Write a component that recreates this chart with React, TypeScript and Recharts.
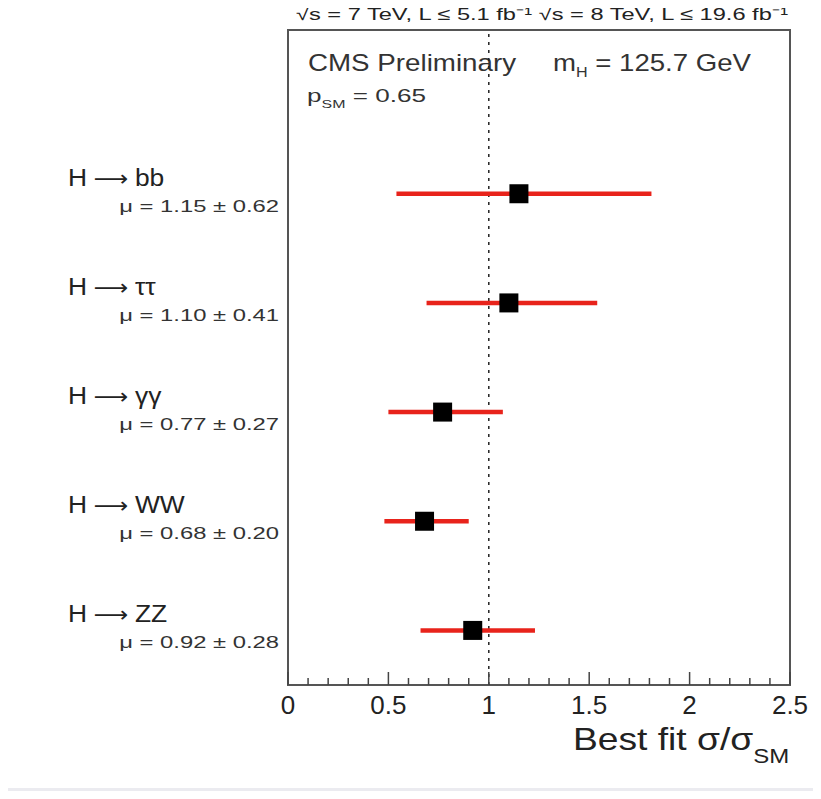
import React from 'react';
import {
  ScatterChart,
  Scatter,
  XAxis,
  YAxis,
  ErrorBar,
  ReferenceLine,
  ReferenceArea,
} from 'recharts';

const CATEGORY_PREFIX = 'H';
const CATEGORY_FINAL_STATES = ['bb', 'ττ', 'γγ', 'WW', 'ZZ'];
const POSITIONS = [5, 4, 3, 2, 1];
const MU = [1.15, 1.1, 0.77, 0.68, 0.92];
const ERR_LOW = [0.61, 0.41, 0.27, 0.2, 0.26];
const ERR_HIGH = [0.66, 0.44, 0.3, 0.22, 0.31];
const MU_LABELS = [
  'μ = 1.15 ± 0.62',
  'μ = 1.10 ± 0.41',
  'μ = 0.77 ± 0.27',
  'μ = 0.68 ± 0.20',
  'μ = 0.92 ± 0.28',
];
const X_TICKS = [
  0, 0.1, 0.2, 0.3, 0.4, 0.5, 0.6, 0.7, 0.8, 0.9, 1, 1.1, 1.2, 1.3, 1.4, 1.5,
  1.6, 1.7, 1.8, 1.9, 2, 2.1, 2.2, 2.3, 2.4, 2.5,
];
const X_MAJOR_TICKS = [0, 0.5, 1, 1.5, 2, 2.5];
const X_TICK_LABELS = ['0', '0.5', '1', '1.5', '2', '2.5'];
const Y_TICKS = [1, 2, 3, 4, 5];

const data = CATEGORY_FINAL_STATES.map((fs, i) => ({
  name: `${CATEGORY_PREFIX} → ${fs}`,
  pos: POSITIONS[i],
  mu: MU[i],
  err: [ERR_LOW[i], ERR_HIGH[i]],
  label: MU_LABELS[i],
}));

const FONT = '"Liberation Sans", Arial, Helvetica, sans-serif';
const DARK = '#222';

const XTick = (props: any) => {
  const { x, y, payload } = props;
  const v = payload.value;
  const idx = X_MAJOR_TICKS.findIndex((m) => Math.abs(m - v) < 1e-6);
  const major = idx >= 0;
  return (
    <g>
      <line x1={x} x2={x} y1={y} y2={y - (major ? 13 : 7)} stroke="#444" strokeWidth={1.5} />
      {major && (
        <text x={x} y={y + 29} textAnchor="middle" fontSize={26} fontFamily={FONT} fill={DARK}>
          {X_TICK_LABELS[idx]}
        </text>
      )}
    </g>
  );
};

const YTick = (props: any) => {
  const { y, payload } = props;
  const i = POSITIONS.indexOf(payload.value);
  if (i < 0) return null;
  return (
    <g>
      <text
        transform={`translate(68,${y - 8}) scale(1.1,1)`}
        fontSize={24}
        fontFamily={FONT}
        fill={DARK}
      >
        {CATEGORY_PREFIX}
        <tspan fontFamily='"DejaVu Sans", sans-serif' fontSize={22} dx={6}>
          ⟶
        </tspan>
        <tspan dx={6}>{CATEGORY_FINAL_STATES[i]}</tspan>
      </text>
      <text
        transform={`translate(279,${y + 18}) scale(1.4,1)`}
        textAnchor="end"
        fontSize={17}
        fontFamily={FONT}
        fill="#333"
      >
        {MU_LABELS[i]}
      </text>
    </g>
  );
};

const Square = (props: any) => {
  const { cx, cy } = props;
  return <rect x={cx - 9.5} y={cy - 9.5} width={19} height={19} fill="#000" />;
};

export default function App() {
  return (
    <div style={{ margin: -8, width: 821, height: 799, position: 'relative', background: '#fff' }}>
      <ScatterChart
        width={821}
        height={788}
        margin={{ top: 30, right: 31, bottom: 73, left: 0 }}
      >
        <XAxis
          type="number"
          dataKey="mu"
          domain={[0, 2.5]}
          ticks={X_TICKS}
          interval={0}
          tickSize={0}
          tickMargin={0}
          tickLine={false}
          axisLine={false}
          tick={<XTick />}
          height={30}
          allowDataOverflow
        />
        <YAxis
          type="number"
          dataKey="pos"
          domain={[0.5, 6.5]}
          ticks={Y_TICKS}
          interval={0}
          width={288}
          tickLine={false}
          axisLine={false}
          tick={<YTick />}
          allowDataOverflow
        />
        <ReferenceArea
          x1={0}
          x2={2.5}
          y1={0.5}
          y2={6.5}
          fill="none"
          fillOpacity={0}
          stroke="#555"
          strokeWidth={2}
          ifOverflow="visible"
        />
        <ReferenceLine x={1} stroke="#222" strokeWidth={1.5} strokeDasharray="3 5" />
        <Scatter data={data} shape={<Square />} isAnimationActive={false}>
          <ErrorBar
            dataKey="err"
            direction="x"
            width={0}
            stroke="#e8231b"
            strokeWidth={4.5}
            isAnimationActive={false}
          />
        </Scatter>
        <g fontFamily={FONT}>
          <text x={296} y={20} fontSize={17} fill={DARK} textLength={492} lengthAdjust="spacingAndGlyphs">
            √s = 7 TeV, L ≤ 5.1 fb⁻¹   √s = 8 TeV, L ≤ 19.6 fb⁻¹
          </text>
          <text x={308} y={71} fontSize={24} fill="#333" textLength={208} lengthAdjust="spacingAndGlyphs">
            CMS Preliminary
          </text>
          <text transform="translate(553,71) scale(1.15,1)" fontSize={24} fill="#333">
            m<tspan fontSize={14} dy={6}>H</tspan>
            <tspan dy={-6}> = 125.7 GeV</tspan>
          </text>
          <text transform="translate(307,102) scale(1.45,1)" fontSize={18} fill="#333">
            p<tspan fontSize={11} dy={6}>SM</tspan>
            <tspan dy={-6}> = 0.65</tspan>
          </text>
          <text transform="translate(573,750) scale(1.2,1)" fontSize={31} fill={DARK}>
            Best fit σ/σ<tspan fontSize={20} dy={13}>SM</tspan>
          </text>
        </g>
      </ScatterChart>
      <div style={{ height: 7, background: '#ebebf0' }} />
      <div style={{ height: 4, background: '#4a4a4a' }} />
    </div>
  );
}
